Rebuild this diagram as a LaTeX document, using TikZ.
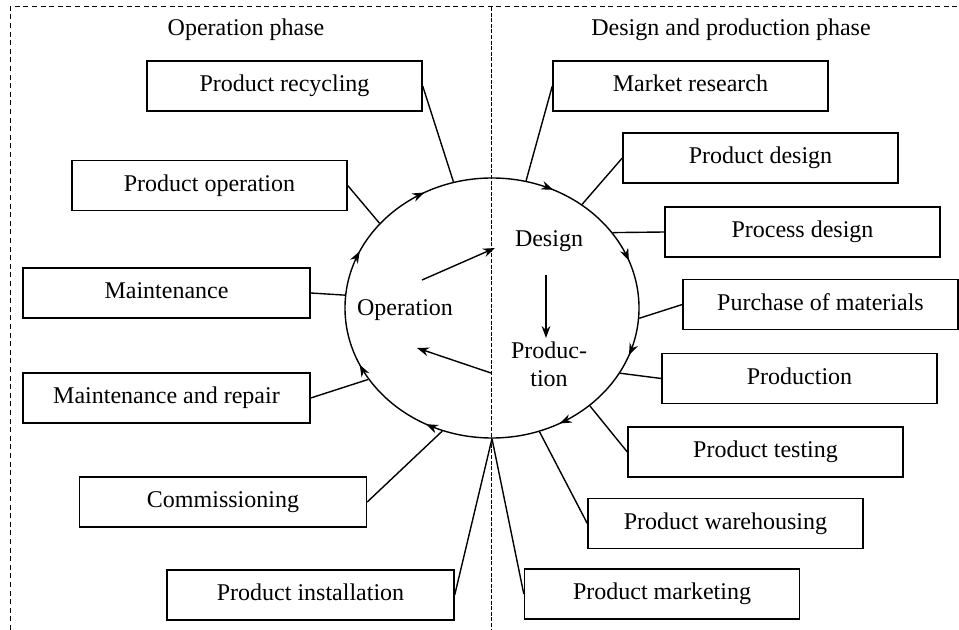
\documentclass[tikz,border=0pt]{standalone}
\usepackage{fontspec}
\setmainfont{Liberation Serif}
\usetikzlibrary{arrows.meta}
\usetikzlibrary{shapes.geometric}
\usetikzlibrary{decorations}
\usepgflibrary{decorations.markings}

\begin{document}
\begin{tikzpicture}[x=0.5pt,y=-0.5pt,line width=0.7pt,
  every node/.style={font=\fontsize{12pt}{14pt}\selectfont},
  box/.style={draw,rectangle,minimum width=137.5pt,minimum height=25pt,inner sep=0pt,
    text height=9pt,text depth=3pt},
  widebox/.style={box,minimum width=143.5pt},
  border/.style={line width=0.5pt,dash pattern=on 2.5pt off 1.8pt},
  divider/.style={line width=0.5pt,dash pattern=on 2pt off 0.8pt},
  flow/.style={-{Stealth[length=6pt,width=4.4pt]}},
  cycle node/.style={draw,ellipse,minimum width=147pt,minimum height=130pt,inner sep=0pt,
    postaction={decorate,decoration={markings,
      mark=at position 0.056 with {\arrowreversed{Stealth[length=6pt,width=4.4pt]}},
      mark=at position 0.178 with {\arrowreversed{Stealth[length=6pt,width=4.4pt]}},
      mark=at position 0.330 with {\arrowreversed{Stealth[length=6pt,width=4.4pt]}},
      mark=at position 0.432 with {\arrowreversed{Stealth[length=6pt,width=4.4pt]}},
      mark=at position 0.568 with {\arrowreversed{Stealth[length=6pt,width=4.4pt]}},
      mark=at position 0.672 with {\arrowreversed{Stealth[length=6pt,width=4.4pt]}},
      mark=at position 0.830 with {\arrowreversed{Stealth[length=6pt,width=4.4pt]}},
      mark=at position 0.944 with {\arrowreversed{Stealth[length=6pt,width=4.4pt]}}}}}]
\useasboundingbox (0,0) rectangle (959,630);
% frame and phases
\draw[border] (10,630) -- (10,7) -- (959,7);
\draw[divider] (491,7) -- (491,630);
\node (ophase) at (246,30) {Operation phase};
\node (dphase) at (731,30) {Design and production phase};
% the cycle
\node[cycle node] (cyc) at (492,308) {};
\node (des) at (549,241) {Design};
\node[align=center] (prd) at (549,364) {Produc-\\tion};
\node (opr) at (405,310) {Operation};
\draw[flow] ([xshift=8.5pt,yshift=15pt]opr.center) -- ([xshift=-27pt,yshift=-3.5pt]des.center);
\draw[flow] ([xshift=-1.5pt,yshift=-17pt]des.center) -- ([xshift=-1.5pt,yshift=13pt]prd.center);
\draw[flow] ([xshift=-29pt,yshift=-4.5pt]prd.center) -- ([xshift=6pt,yshift=-19pt]opr.center);
% operation phase
\node[box] (recyc) at (284.5,86) {Product recycling};
\node[box] (poper) at (209.5,185.5) {Product operation};
\node[widebox] (maint) at (166.5,293) {Maintenance};
\node[widebox] (repair) at (166.5,398) {Maintenance and repair};
\node[widebox] (commis) at (223,502) {Commissioning};
\node[widebox] (install) at (310.5,595) {Product installation};
% design and production phase
\node[box] (market) at (690.5,86) {Market research};
\node[box] (pdesign) at (760.5,158) {Product design};
\node[box] (prdesign) at (802.5,232) {Process design};
\node[box] (purchase) at (820.5,304.5) {Purchase of materials};
\node[box] (produce) at (799.5,378.5) {Production};
\node[box] (testing) at (765.5,452) {Product testing};
\node[box] (store) at (725.5,523.5) {Product warehousing};
\node[box] (sales) at (662,594) {Product marketing};
% links
\draw (recyc.east) -- (cyc.107);
\draw (poper.east) -- (cyc.143);
\draw (maint.east) -- (cyc.175);
\draw (repair.east) -- (cyc.210);
\draw (commis.east) -- (cyc.248);
\draw (install.east) -- (cyc.270);
\draw (market.west) -- (cyc.75);
\draw (pdesign.west) -- (cyc.49);
\draw (prdesign.west) -- (cyc.32);
\draw (purchase.west) -- (cyc.-4);
\draw (produce.west) -- (cyc.-27);
\draw (testing.west) -- (cyc.-45);
\draw (store.west) -- (cyc.-69);
\draw (sales.west) -- (cyc.270);
\end{tikzpicture}
\end{document}
